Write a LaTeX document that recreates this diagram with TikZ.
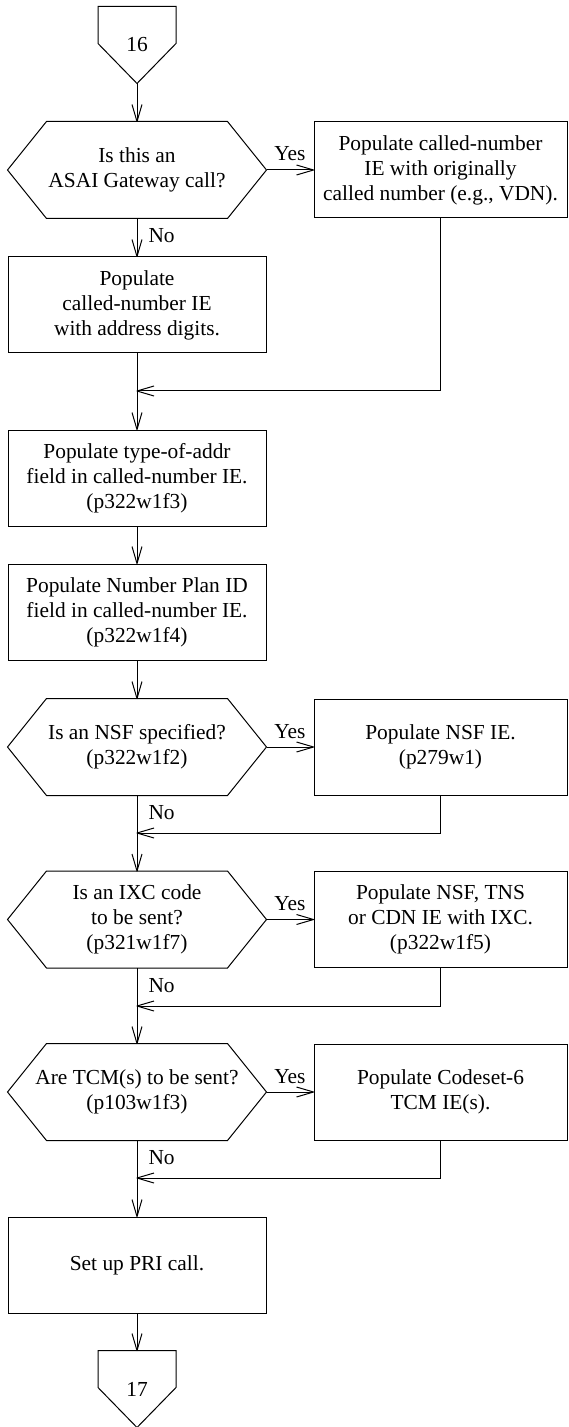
\documentclass[tikz,border=0pt]{standalone}
\usepackage{fontspec}
\setmainfont{Liberation Serif}
\usetikzlibrary{arrows.meta,calc}

% open two-stroke arrow head
\pgfdeclarearrow{
  name = Vbarb,
  parameters = {\the\pgfarrowlength,\the\pgfarrowwidth},
  setup code = {
    \pgfarrowssettipend{0pt}
    \pgfarrowssetlineend{-0.5\pgflinewidth}
    \pgfarrowssetvisualbackend{-\pgfarrowlength}
    \pgfarrowssetbackend{-\pgfarrowlength}
    \pgfarrowshullpoint{0pt}{0pt}
    \pgfarrowshullpoint{-\pgfarrowlength}{0.5\pgfarrowwidth}
    \pgfarrowshullpoint{-\pgfarrowlength}{-0.5\pgfarrowwidth}
    \pgfarrowssavethe\pgfarrowlength
    \pgfarrowssavethe\pgfarrowwidth
  },
  drawing code = {
    \pgfsetdash{}{0pt}
    \pgfsetroundjoin
    \pgfpathmoveto{\pgfqpoint{-\pgfarrowlength}{0.5\pgfarrowwidth}}
    \pgfpathlineto{\pgfpointorigin}
    \pgfpathlineto{\pgfqpoint{-\pgfarrowlength}{-0.5\pgfarrowwidth}}
    \pgfusepathqstroke
  },
  defaults = {length=8.5pt, width=5pt}
}

\begin{document}
\begin{tikzpicture}[
  x=0.5pt, y=-0.5pt,
  line width=0.5pt,
  every node/.style={font=\fontsize{10.7}{12.5}\selectfont, align=center, inner sep=0pt},
  flow/.style={draw, -{Vbarb}},
  procbox/.style={draw, rectangle, minimum width=129pt, minimum height=48pt},
  sidebox/.style={draw, rectangle, minimum width=126.5pt, minimum height=48pt},
  decision/.style={rectangle, minimum width=129pt, minimum height=48pt},
  offpage/.style={rectangle, minimum width=38.5pt, minimum height=38pt},
  lbl/.style={anchor=base},
  nolbl/.style={anchor=base west},
]
\useasboundingbox (0,0) rectangle (568,1427);

% main column
\node[offpage]  (c16) at (137,45)    {16};
\node[decision] (d1)  at (137,170)   {Is this an\\ASAI Gateway call?};
\node[procbox]  (b1)  at (137,305)   {Populate\\called-number IE\\with address digits.};
\node[procbox]  (b2)  at (137,478)   {Populate type-of-addr\\field in called-number IE.\\(p322w1f3)};
\node[procbox]  (b3)  at (137,612)   {Populate Number Plan ID\\field in called-number IE.\\(p322w1f4)};
\node[decision] (d3)  at (137,747)   {Is an NSF specified?\\(p322w1f2)};
\node[decision] (d4)  at (137,919.5) {Is an IXC code\\to be sent?\\(p321w1f7)};
\node[decision] (d5)  at (137,1092)  {Are TCM(s) to be sent?\\(p103w1f3)};
\node[procbox]  (pri) at (137,1265)  {Set up PRI call.};
\node[offpage]  (c17) at (137,1389)  {17};

% side column
\node[sidebox] (y1) at (440.5,170)   {Populate called-number\\IE with originally\\called number (e.g., VDN).};
\node[sidebox] (y3) at (440.5,747)   {Populate NSF IE.\\(p279w1)};
\node[sidebox] (y4) at (440.5,919.5) {Populate NSF, TNS\\or CDN IE with IXC.\\(p322w1f5)};
\node[sidebox] (y5) at (440.5,1092)  {Populate Codeset-6\\TCM IE(s).};

% merge points on the main line
\coordinate (m1) at (137,391);
\coordinate (m3) at (137,833);
\coordinate (m4) at (137,1006);
\coordinate (m5) at (137,1178);

% decision outlines
\foreach \n in {d1,d3,d4,d5}{
  \draw ([xshift=19.5pt]\n.north west) -- ([xshift=-19.5pt]\n.north east)
     -- (\n.east) -- ([xshift=-19.5pt]\n.south east)
     -- ([xshift=19.5pt]\n.south west) -- (\n.west) -- cycle;
}

% off-page connector outlines
\foreach \n in {c16,c17}{
  \draw (\n.north west) -- (\n.north east) -- ([yshift=-18.5pt]\n.north east)
     -- (\n.south) -- ([yshift=-18.5pt]\n.north west) -- cycle;
}

% main flow
\draw[flow] (c16.south) -- (d1.north);
\draw[flow] (d1.south) -- (b1.north);
\draw[flow] (b1.south) -- (b2.north);
\draw[flow] (b2.south) -- (b3.north);
\draw[flow] (b3.south) -- (d3.north);
\draw[flow] (d3.south) -- (d4.north);
\draw[flow] (d4.south) -- (d5.north);
\draw[flow] (d5.south) -- (pri.north);
\draw[flow] (pri.south) -- (c17.north);

% yes branches
\draw[flow] (d1.east) -- node[lbl, yshift=4.5pt] (yes1) {Yes} (y1.west);
\draw[flow] (d3.east) -- node[lbl, yshift=4.5pt] (yes3) {Yes} (y3.west);
\draw[flow] (d4.east) -- node[lbl, yshift=4.5pt] (yes4) {Yes} (y4.west);
\draw[flow] (d5.east) -- node[lbl, yshift=4.5pt] (yes5) {Yes} (y5.west);

% returns into the main line
\draw[flow] (y1.south) |- (m1);
\draw[flow] (y3.south) |- (m3);
\draw[flow] (y4.south) |- (m4);
\draw[flow] (y5.south) |- (m5);

% no labels
\node[nolbl] (no1) at ([xshift=5.5pt,yshift=-12pt]d1.south) {No};
\node[nolbl] (no3) at ([xshift=5.5pt,yshift=-12pt]d3.south) {No};
\node[nolbl] (no4) at ([xshift=5.5pt,yshift=-12pt]d4.south) {No};
\node[nolbl] (no5) at ([xshift=5.5pt,yshift=-12pt]d5.south) {No};
\end{tikzpicture}
\end{document}
